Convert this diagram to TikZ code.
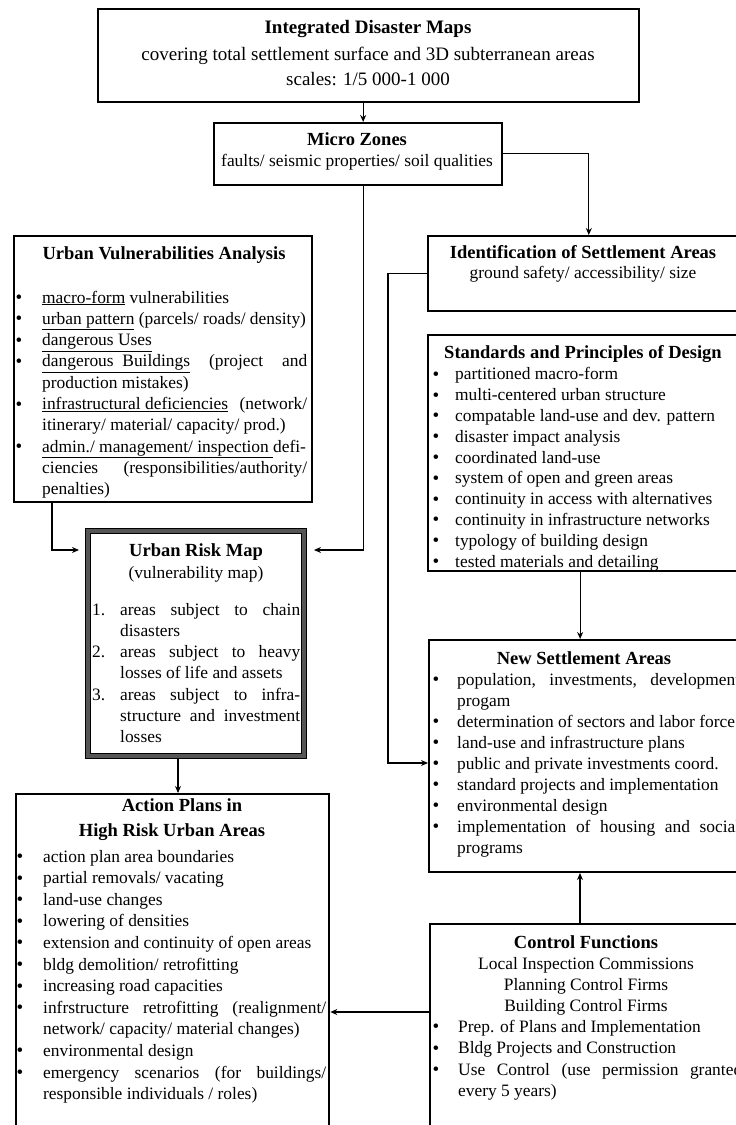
\documentclass[tikz,border=0pt]{standalone}
\usepackage{fontspec}
\setmainfont{Liberation Serif}
\usetikzlibrary{arrows.meta,calc}

% list helpers: bullet column width, justified line width
\newlength\bw
\newlength\jw
\newcommand\cols[2]{\global\bw=#1\relax\global\jw=#2\relax}
\newcommand\bdot{\hspace*{1.5pt}\raisebox{-0.5pt}{\fontsize{19}{19}\selectfont\textbullet}}
\newcommand\itm[1]{\makebox[\bw][l]{\bdot}#1}
\newcommand\num[2]{\makebox[\bw][l]{#1}#2}
\newcommand\cnt[1]{\hspace*{\bw}#1}
\newcommand\jst[1]{\makebox[\jw][s]{#1}}

\tikzset{
  frame/.style={draw=black, line width=1.6pt, inner sep=0pt, anchor=north west},
  heavy/.style={frame, line width=2.3pt},
  riskframe/.style={frame, draw={rgb,255:red,85;green,85;blue,85}, line width=6pt},
  body/.style={inner sep=0pt, align=left, anchor=base west, font=\fontsize{17.4}{#1}\selectfont},
  body/.default=21.3,
  head/.style={inner sep=0pt, anchor=base, font=\fontsize{18.5}{21.3}\selectfont\bfseries},
  line/.style={inner sep=0pt, anchor=base, font=\fontsize{17.4}{21.3}\selectfont},
  big/.style={inner sep=0pt, anchor=base, font=\fontsize{19}{25}\selectfont},
  conn/.style={draw=black, line width=1.1pt, -{Stealth[length=7pt,width=6pt]}},
  edge/.style={draw=black, line width=0.9pt},
}

\begin{document}
\begin{tikzpicture}[x=1pt,y=-1pt]
\useasboundingbox (0,0) rectangle (736,1125);
\fill[white] (0,0) rectangle (736,1125);

% ---------- boxes ----------
\node[heavy, minimum width=541pt, minimum height=93pt] (maps) at (97,8) {};
\node[frame, minimum width=288pt, minimum height=62pt] (micro) at (213,122) {};
\node[frame, minimum width=330pt, minimum height=75pt] (ident) at (427,235) {};
\node[heavy, minimum width=330pt, minimum height=236pt] (std) at (427,334) {};
\node[frame, line width=2pt, minimum width=330pt, minimum height=232pt] (newset) at (428,639) {};
\node[frame, line width=2pt, minimum width=330pt, minimum height=230pt] (ctrl) at (429,923) {};
\node[heavy, minimum width=298pt, minimum height=266pt] (vuln) at (13,235) {};
\node[riskframe, minimum width=216pt, minimum height=225pt] (risk) at (85,528) {};
\node[heavy, minimum width=313pt, minimum height=360pt] (action) at (15,793) {};

% dark rims on both sides of the heavy risk-map frame
\draw[edge] ([shift={(0.45pt,-0.45pt)}]risk.north west) rectangle ([shift={(-0.45pt,0.45pt)}]risk.south east);
\draw[edge] ([shift={(5.6pt,-5.6pt)}]risk.north west) rectangle ([shift={(-5.6pt,5.6pt)}]risk.south east);

% ---------- texts (multi-line lists are placed by their last baseline) ----------
\node[big, font=\fontsize{19}{25}\selectfont\bfseries] (mapsT) at (368,33) {Integrated Disaster Maps};
\node[big] (mapsA) at (368,60) {covering total settlement surface and 3D subterranean areas};
\node[big] (mapsB) at (368,85) {scales: 1/5 000-1 000};

\node[head] (microT) at (357,145) {Micro Zones};
\node[line] (microA) at (357,166) {faults/ seismic properties/ soil qualities};

\node[head] (identT) at (583,258) {Identification of Settlement Areas};
\node[line] (identA) at (583,278) {ground safety/ accessibility/ size};

\node[head] (stdT) at (583,358) {Standards and Principles of Design};
\node[body=20.8] (stdL) at (431,567) {\cols{24pt}{285pt}%
\itm{partitioned macro-form}\\
\itm{multi-centered urban structure}\\
\itm{compatable land-use and dev. pattern}\\
\itm{disaster impact analysis}\\
\itm{coordinated land-use}\\
\itm{system of open and green areas}\\
\itm{continuity in access with alternatives}\\
\itm{continuity in infrastructure networks}\\
\itm{typology of building design}\\
\itm{tested materials and detailing}};

\node[head] (newsetT) at (584,664) {New Settlement Areas};
\node[body=21] (newsetL) at (431,853) {\cols{26pt}{283pt}%
\itm{\jst{population, investments, development}}\\
\cnt{progam}\\
\itm{determination of sectors and labor force}\\
\itm{land-use and infrastructure plans}\\
\itm{public and private investments coord.}\\
\itm{standard projects and implementation}\\
\itm{environmental design}\\
\itm{\jst{implementation of housing and social}}\\
\cnt{programs}};

\node[head] (ctrlT) at (586,948) {Control Functions};
\node[line] (ctrlA) at (586,969) {Local Inspection Commissions};
\node[line] (ctrlB) at (586,990) {Planning Control Firms};
\node[line] (ctrlC) at (586,1011) {Building Control Firms};
\node[body=21.5] (ctrlL) at (431,1096.5) {\cols{27pt}{284pt}%
\itm{Prep. of Plans and Implementation}\\
\itm{Bldg Projects and Construction}\\
\itm{\jst{Use Control (use permission granted}}\\
\cnt{every 5 years)}};

\node[head] (vulnT) at (164,259) {Urban Vulnerabilities Analysis};
\node[body=21.3] (vulnL) at (14,494.7) {\cols{28pt}{265pt}%
\itm{\underline{macro-form} vulnerabilities}\\
\itm{\underline{urban pattern} (parcels/ roads/ density)}\\
\itm{\underline{dangerous Uses}}\\
\itm{\jst{\underline{dangerous\ \ Buildings} (project and}}\\
\cnt{production mistakes)}\\
\itm{\jst{\underline{infrastructural\ deficiencies} (network/}}\\
\cnt{itinerary/ material/ capacity/ prod.)}\\
\itm{\jst{\underline{admin./ management/ inspection\ }defi-}}\\
\cnt{\jst{ciencies (responsibilities/authority/}}\\
\cnt{penalties)}};

\node[head] (riskT) at (196,556) {Urban Risk Map};
\node[line] (riskA) at (196,578) {(vulnerability map)};
\node[body=21.3] (riskL) at (92,742.8) {\cols{28pt}{180pt}%
\num{1.}{\jst{areas subject to chain}}\\
\cnt{disasters}\\
\num{2.}{\jst{areas subject to heavy}}\\
\cnt{losses of life and assets}\\
\num{3.}{\jst{areas subject to infra-}}\\
\cnt{\jst{structure and investment}}\\
\cnt{losses}};

\node[head] (actionT) at (182,811) {Action Plans in};
\node[head] (actionU) at (172,836) {High Risk Urban Areas};
\node[body=21.6] (actionL) at (15,1099.6) {\cols{28pt}{283pt}%
\itm{action plan area boundaries}\\
\itm{partial removals/ vacating}\\
\itm{land-use changes}\\
\itm{lowering of densities}\\
\itm{extension and continuity of open areas}\\
\itm{bldg demolition/ retrofitting}\\
\itm{increasing road capacities}\\
\itm{\jst{infrstructure retrofitting (realignment/}}\\
\cnt{network/ capacity/ material changes)}\\
\itm{environmental design}\\
\itm{\jst{emergency scenarios (for buildings/}}\\
\cnt{responsible individuals / roles)}};

% ---------- connectors ----------
\draw[conn] ([xshift=-5.5pt]maps.south) -- ([xshift=-5.5pt]maps.south |- micro.north);
\draw[conn] (micro.east) -| ([xshift=-4pt]ident.north);
\draw[conn, shorten >=7pt] ([xshift=5.5pt]micro.south) |- ([yshift=-22pt]risk.north east);
\draw[conn, shorten >=6pt] ([xshift=39pt]vuln.south west) |- ([yshift=-22pt]risk.north west);
\draw[conn] ([xshift=-18pt]risk.south) -- ([xshift=-18pt]risk.south |- action.north);
\draw[conn] ([xshift=-13pt]std.south) -- ([xshift=-13pt]std.south |- newset.north);
\draw[conn] (ident.west) -- ++(-39,0) |- ([yshift=-124pt]newset.north west);
\draw[conn] ([xshift=-15pt]ctrl.north) -- ([xshift=-15pt]ctrl.north |- newset.south);
\coordinate (ctrlIn) at ([yshift=-89pt]ctrl.north west);
\draw[conn] (ctrlIn) -- (ctrlIn -| action.east);
\end{tikzpicture}
\end{document}
